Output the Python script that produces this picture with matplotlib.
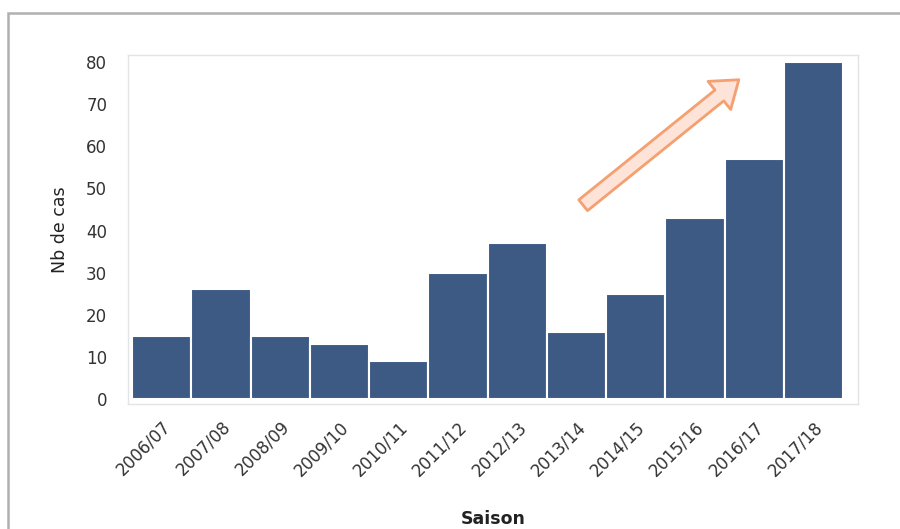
import numpy as np
import matplotlib.pyplot as plt
import matplotlib.patches as patches

saisons = ['2006/07', '2007/08', '2008/09', '2009/10', '2010/11', '2011/12',
           '2012/13', '2013/14', '2014/15', '2015/16', '2016/17', '2017/18']
nb_cas = [15, 26, 15, 13, 9, 30, 37, 16, 25, 43, 57, 80]

W, H = 900, 529
fig = plt.figure(figsize=(W / 100, H / 100), dpi=100)

# grey frame around the whole figure (runs off the right and bottom edges)
fig.patches.append(patches.Rectangle(
    (8 / W, -0.05), 1.1, 1 - 13 / H + 0.05, transform=fig.transFigure,
    fill=False, edgecolor='#b0b0b0', linewidth=1.8))

ax = fig.add_axes([128 / W, 1 - 404 / H, 730 / W, 349 / H])
x = np.arange(len(saisons))
ax.bar(x, nb_cas, width=1.0, color='#3d5a84', edgecolor='white', linewidth=1.5)

ax.set_xlim(-0.57, 11.75)
ax.set_ylim(-1.2, 81.7)
ax.set_yticks(range(0, 81, 10))
ax.set_xticks(x)
ax.set_xticklabels(saisons, rotation=45, ha='right', rotation_mode='anchor')
ax.tick_params(length=0, labelsize=12, colors='#333333')
ax.tick_params(axis='y', pad=15)
ax.tick_params(axis='x', pad=10)
for s in ax.spines.values():
    s.set_color('#e4e4e4')
    s.set_linewidth(1.0)

ax.set_ylabel('Nb de cas', fontsize=12.5, color='#222222', labelpad=12)
ax.set_xlabel('Saison', fontsize=12.5, fontweight='bold', color='#222222', labelpad=22)

# rising-trend arrow
arrow = patches.FancyArrowPatch(
    (581 / W, 1 - 207 / H), (741 / W, 1 - 78 / H), transform=fig.transFigure,
    arrowstyle='simple,head_length=18,head_width=26,tail_width=10',
    mutation_scale=1, facecolor='#fde3d8', edgecolor='#f4a070', linewidth=2)
fig.patches.append(arrow)

fig.savefig('out.png', dpi=100)
